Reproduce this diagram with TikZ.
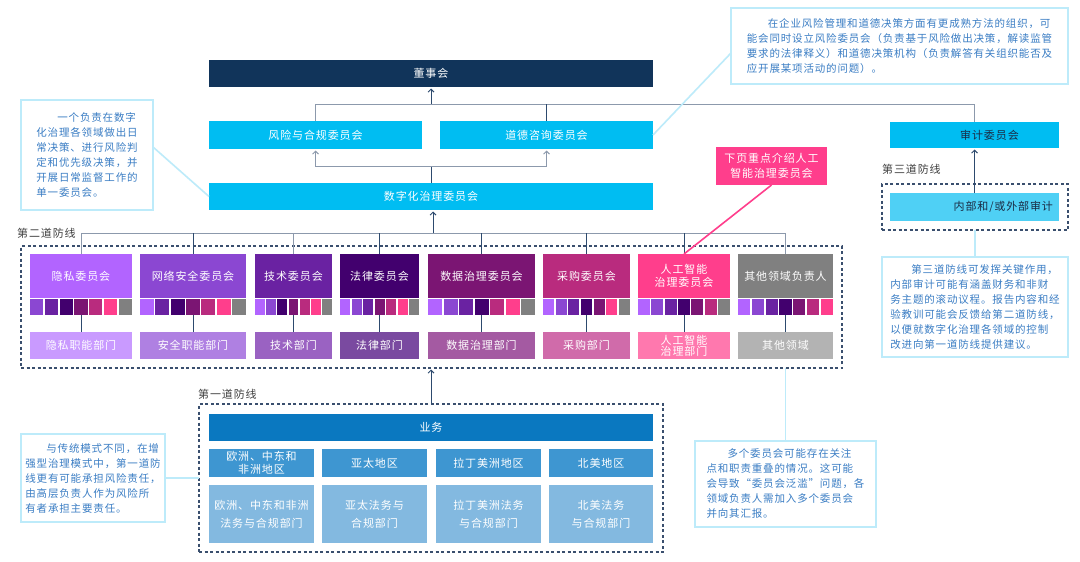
\documentclass[tikz,border=0pt]{standalone}
\usepackage{fontspec}
\setmainfont{Noto Sans CJK SC}
\newfontfamily\cjksp{Noto Sans CJK SC}[LetterSpace=8]
\usetikzlibrary{arrows.meta,calc}
\definecolor{navy}{HTML}{11345A}
\definecolor{cyanb}{HTML}{00BDF2}
\definecolor{cyanl}{HTML}{4FD0F5}
\definecolor{c1}{HTML}{B264FF}
\definecolor{c2}{HTML}{8B47D2}
\definecolor{c3}{HTML}{6A22A2}
\definecolor{c4}{HTML}{42006E}
\definecolor{c5}{HTML}{7B1573}
\definecolor{c6}{HTML}{B92B7E}
\definecolor{c7}{HTML}{FF3E8C}
\definecolor{c8}{HTML}{808080}
\definecolor{d1}{HTML}{C99AFF}
\definecolor{d2}{HTML}{AF80E2}
\definecolor{d3}{HTML}{9A62C2}
\definecolor{d4}{HTML}{7A4AA0}
\definecolor{d5}{HTML}{A45AA2}
\definecolor{d6}{HTML}{D06BAA}
\definecolor{d7}{HTML}{FF78AE}
\definecolor{d8}{HTML}{B3B3B3}
\definecolor{bizA}{HTML}{0A78C0}
\definecolor{bizB}{HTML}{3E96D1}
\definecolor{bizC}{HTML}{83B9E0}
\definecolor{lineA}{HTML}{8C99AC}
\definecolor{lineB}{HTML}{2D4A6E}
\definecolor{calb}{HTML}{BDEBFA}
\definecolor{calt}{HTML}{3A7DC4}
\definecolor{labc}{HTML}{404040}
\definecolor{dashc}{HTML}{3A4F6E}
\definecolor{darkt}{HTML}{1B2B44}
\newcommand{\mkbox}[7]{\node[#6, minimum width=#4pt, minimum height=#5pt] (#1) at (#2,#3) {#7};}
\newcommand{\mkstrip}[3]{\foreach \cc [count=\i from 0] in {#3} {\fill[\cc] ({#1-#2/2+\i*(#2+1.5)/7},299) rectangle ++({(#2+1.5)/7-1.5},16);}}
\begin{document}
\begin{tikzpicture}[x=1pt,y=-1pt,
  box/.style={rectangle, inner sep=1pt, outer sep=0pt, text=white, align=center, font=\cjksp\fontsize{11}{13}\selectfont},
  callout/.style={rectangle, draw=calb, line width=2pt, fill=white, text=calt, align=left, inner sep=0pt, outer sep=0pt, font=\cjksp\fontsize{10.5}{15}\selectfont},
  calline/.style={draw=calb, line width=1.6pt},
  conn/.style={line width=1pt, draw=lineA},
  connd/.style={line width=1pt, draw=lineB},
  arr/.style={line width=0.9pt, draw=lineB, -{Straight Barb[length=3pt,width=6pt]}, shorten >=1.5pt},
  lbl/.style={text=labc, font=\cjksp\fontsize{11}{13}\selectfont, inner sep=0pt, anchor=west},
  dashbox/.style={rectangle, draw=dashc, line width=1.2pt, dash pattern=on 3pt off 2.5pt, inner sep=0pt, outer sep=0pt}]
\useasboundingbox[fill=white] (0,0) rectangle (1080,562);

% dashed line-of-defence frames
\mkbox{L2}{431.5}{307}{821}{122}{dashbox}{}
\mkbox{L3}{975}{207}{186}{46}{dashbox}{}
\mkbox{L1}{431}{478}{464}{148}{dashbox}{}
\node[lbl] (lab2) at (17,233) {第二道防线};
\node[lbl] (lab3) at (882,169) {第三道防线};
\node[lbl] (lab1) at (198,394) {第一道防线};

% top
\mkbox{board}{431}{73.5}{444}{27}{box,fill=navy}{董事会}
\mkbox{risk}{315.5}{135}{213}{28}{box,fill=cyanb}{风险与合规委员会}
\mkbox{ethics}{546.5}{135}{213}{28}{box,fill=cyanb}{道德咨询委员会}
\mkbox{dg}{431}{196.5}{444}{27}{box,fill=cyanb}{数字化治理委员会}
\mkbox{audit}{974.5}{135}{169}{26}{box,fill=cyanb,text=darkt}{\hspace{30pt}审计委员会}
\mkbox{inner}{974.5}{207}{169}{28}{box,fill=cyanl,text=darkt,text width=157pt,align=right}{内部和/或外部审计}

% committees
\mkbox{k1}{81}{276}{102}{44}{box,fill=c1}{隐私委员会}
\mkbox{k2}{193}{276}{106}{44}{box,fill=c2}{网络安全委员会}
\mkbox{k3}{293.5}{276}{77}{44}{box,fill=c3}{技术委员会}
\mkbox{k4}{379.5}{276}{79}{44}{box,fill=c4}{法律委员会}
\mkbox{k5}{481.5}{276}{107}{44}{box,fill=c5}{数据治理委员会}
\mkbox{k6}{586.5}{276}{87}{44}{box,fill=c6}{采购委员会}
\mkbox{k7}{684}{276}{92}{44}{box,fill=c7}{人工智能\\治理委员会}
\mkbox{k8}{785.5}{276}{95}{44}{box,fill=c8}{其他领域负责人}

\mkstrip{81}{102}{c2,c3,c4,c5,c6,c7,c8}
\mkstrip{193}{106}{c1,c3,c4,c5,c6,c7,c8}
\mkstrip{293.5}{77}{c1,c2,c4,c5,c6,c7,c8}
\mkstrip{379.5}{79}{c1,c2,c3,c5,c6,c7,c8}
\mkstrip{481.5}{107}{c1,c2,c3,c4,c6,c7,c8}
\mkstrip{586.5}{87}{c1,c2,c3,c4,c5,c7,c8}
\mkstrip{684}{92}{c1,c2,c3,c4,c5,c6,c8}
\mkstrip{785.5}{95}{c1,c2,c3,c4,c5,c6,c7}

\mkbox{p1}{81}{345.5}{102}{27}{box,fill=d1}{隐私职能部门}
\mkbox{p2}{193}{345.5}{106}{27}{box,fill=d2}{安全职能部门}
\mkbox{p3}{293.5}{345.5}{77}{27}{box,fill=d3}{技术部门}
\mkbox{p4}{379.5}{345.5}{79}{27}{box,fill=d4}{法律部门}
\mkbox{p5}{481.5}{345.5}{107}{27}{box,fill=d5}{数据治理部门}
\mkbox{p6}{586.5}{345.5}{87}{27}{box,fill=d6}{采购部门}
\mkbox{p7}{684}{345.5}{92}{27}{box,fill=d7,font=\cjksp\fontsize{11}{11}\selectfont}{人工智能\\治理部门}
\mkbox{p8}{785.5}{345.5}{95}{27}{box,fill=d8}{其他领域}

\foreach \k/\x in {1/81,2/193,3/293.5,4/379.5,5/481.5,6/586.5,7/684,8/785.5}{
  \coordinate (s\k) at (\x,315);
  \draw[connd] (s\k) -- (p\k.north);
}

% first line of defence
\mkbox{biz}{431}{427.5}{444}{27}{box,fill=bizA}{业务}
\mkbox{r1}{261.5}{463}{105}{28}{box,fill=bizB}{欧洲、中东和\\非洲地区}
\mkbox{r2}{374.5}{463}{105}{28}{box,fill=bizB}{亚太地区}
\mkbox{r3}{488.5}{463}{105}{28}{box,fill=bizB}{拉丁美洲地区}
\mkbox{r4}{601}{463}{104}{28}{box,fill=bizB}{北美地区}
\mkbox{f1}{261.5}{514}{105}{58}{box,fill=bizC,font=\cjksp\fontsize{11}{18}\selectfont}{欧洲、中东和非洲\\法务与合规部门}
\mkbox{f2}{374.5}{514}{105}{58}{box,fill=bizC,font=\cjksp\fontsize{11}{18}\selectfont}{亚太法务与\\合规部门}
\mkbox{f3}{488.5}{514}{105}{58}{box,fill=bizC,font=\cjksp\fontsize{11}{18}\selectfont}{拉丁美洲法务\\与合规部门}
\mkbox{f4}{601}{514}{104}{58}{box,fill=bizC,font=\cjksp\fontsize{11}{18}\selectfont}{北美法务\\与合规部门}

% connectors
\coordinate (topbus) at (0,104);
\coordinate (midbus) at (0,166);
\coordinate (busL) at (81,233);
\draw[conn] (risk.north) -- (risk.north |- topbus) -| (audit.north);
\draw[connd] (ethics.north) -- (ethics.north |- topbus);
\draw[arr] (board.south |- topbus) -- (board.south);
\draw[connd] (dg.north) -- (dg.north |- midbus);
\draw[arr,draw=lineA] (dg.north |- midbus) -| (risk.south);
\draw[arr,draw=lineA] (dg.north |- midbus) -| (ethics.south);
\draw[conn] (k1.north |- busL) -- (k8.north |- busL);
\foreach \k in {1,3,8}{\draw[conn] (k\k.north |- busL) -- (k\k.north);}
\foreach \k in {2,4,5,6,7}{\draw[connd] (k\k.north |- busL) -- (k\k.north);}
\draw[arr] ([xshift=2pt]dg.south |- busL) -- ([xshift=2pt]dg.south);
\draw[arr] (inner.north) -- (audit.south);
\draw[arr] (L1.north) -- (L1.north |- L2.south);

% callouts
\node[callout, minimum width=132pt, minimum height=110pt] (C1) at (87,155)
 {\hspace{2em}一个负责在数字\\化治理各领域做出日\\常决策、进行风险判\\定和优先级决策，并\\开展日常监督工作的\\单一委员会。};
\node[callout, minimum width=337pt, minimum height=76pt] (C2) at (899.5,46)
 {\hspace{2em}在企业风险管理和道德决策方面有更成熟方法的组织，可\\能会同时设立风险委员会（负责基于风险做出决策，解读监管\\要求的法律释义）和道德决策机构（负责解答有关组织能否及\\应开展某项活动的问题）。};
\node[callout, minimum width=186pt, minimum height=100pt] (C3) at (975,307)
 {\hspace{2em}第三道防线可发挥关键作用，\\内部审计可能有涵盖财务和非财\\务主题的滚动议程。报告内容和经\\验教训可能会反馈给第二道防线，\\以便就数字化治理各领域的控制\\改进向第一道防线提供建议。};
\node[callout, minimum width=181pt, minimum height=86pt] (C4) at (785.5,484)
 {\hspace{2em}多个委员会可能存在关注\\点和职责重叠的情况。这可能\\会导致“委员会泛滥”问题，各\\领域负责人需加入多个委员会\\并向其汇报。};
\node[callout, minimum width=144pt, minimum height=88pt] (C5) at (93,478)
 {\hspace{2em}与传统模式不同，在增\\强型治理模式中，第一道防\\线更有可能承担风险责任，\\由高层负责人作为风险所\\有者承担主要责任。};
\draw[calline] ([yshift=8pt]C1.east) -- (dg.west);
\draw[calline] ([yshift=-7pt]C2.west) -- (ethics.east);
\draw[calline] (L3.south) -- (C3.north);
\draw[calline] (C4.north) -- (C4.north |- L2.south);
\draw[calline] (C5.east) -- (L1.west);

% pink note
\mkbox{note}{771.5}{166}{111}{38}{box,fill=c7,font=\cjksp\fontsize{11}{15}\selectfont}{下页重点介绍人工\\智能治理委员会}
\draw[draw=c7, line width=1.6pt] (note.south) -- (k7.north);
\end{tikzpicture}
\end{document}
